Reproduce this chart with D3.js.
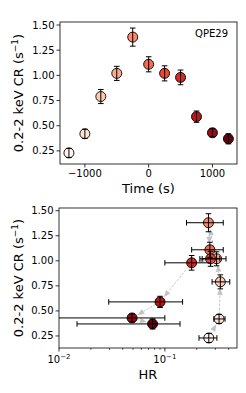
<!DOCTYPE html>
<html><head><meta charset="utf-8">
<script src="https://cdn.jsdelivr.net/npm/d3@7"></script>
<style>
body{margin:0;background:#fff;}
svg text{font-family:"DejaVu Sans",sans-serif;fill:#000;}
</style></head>
<body><svg id="c" width="246" height="393"></svg>
<script>
const timeS = [-1250,-1000,-750,-500,-250,0,250,500,750,1000,1250];
const countRate = [0.23,0.42,0.79,1.02,1.38,1.11,1.02,0.98,0.59,0.43,0.37];
const countRateErr = [0.045,0.045,0.07,0.07,0.09,0.075,0.075,0.073,0.056,0.04,0.05];
const hardness = [0.26,0.325,0.334,0.308,0.258,0.266,0.27,0.179,0.09,0.049,0.0765];
const hardnessLo = [0.21,0.29,0.279,0.214,0.16,0.179,0.225,0.10,0.0295,0.005,0.0148];
const hardnessHi = [0.31,0.37,0.41,0.378,0.356,0.356,0.33,0.27,0.147,0.10,0.139];
const timeTicks = [-1000,0,1000];
const crTicks = [0.25,0.5,0.75,1.0,1.25,1.5];
const hrMajor = [0.01,0.1];
const hrMinor = [0.02,0.03,0.04,0.05,0.06,0.07,0.08,0.09,0.2,0.3,0.4];
const label = "QPE29";

const svg = d3.select("#c");
const n = countRate.length;
const color = i => d3.interpolateReds(i/(n-1));

function yAxisDraw(g, y, x0) {
  crTicks.forEach(t => {
    g.append("line").attr("x1", x0-3.5).attr("x2", x0).attr("y1", y(t)).attr("y2", y(t)).attr("stroke","#000").attr("stroke-width",0.8);
    g.append("text").attr("x", x0-5.5).attr("y", y(t)).attr("dy","0.35em").attr("text-anchor","end").attr("font-size",10).text(t.toFixed(2));
  });
}
function yLabel(g, cy) {
  const t = g.append("text").attr("transform",`translate(23,${cy}) rotate(-90)`).attr("text-anchor","middle").attr("font-size",13);
  t.append("tspan").text("0.2-2 keV CR (s");
  t.append("tspan").attr("font-size",9).attr("dy",-5).text("\u22121");
  t.append("tspan").attr("dy",5).text(")");
}
function errBars(g, xs, ys, ylo, yhi, xlo, xhi) {
  const cap = 2.8;
  for (let i=0;i<n;i++){
    g.append("line").attr("x1",xs[i]).attr("x2",xs[i]).attr("y1",ylo[i]).attr("y2",yhi[i]).attr("stroke","#000").attr("stroke-width",1);
    g.append("line").attr("x1",xs[i]-cap).attr("x2",xs[i]+cap).attr("y1",ylo[i]).attr("y2",ylo[i]).attr("stroke","#000").attr("stroke-width",1);
    g.append("line").attr("x1",xs[i]-cap).attr("x2",xs[i]+cap).attr("y1",yhi[i]).attr("y2",yhi[i]).attr("stroke","#000").attr("stroke-width",1);
    if (xlo) {
      g.append("line").attr("x1",xlo[i]).attr("x2",xhi[i]).attr("y1",ys[i]).attr("y2",ys[i]).attr("stroke","#000").attr("stroke-width",1);
      g.append("line").attr("x1",xlo[i]).attr("x2",xlo[i]).attr("y1",ys[i]-cap).attr("y2",ys[i]+cap).attr("stroke","#000").attr("stroke-width",1);
      g.append("line").attr("x1",xhi[i]).attr("x2",xhi[i]).attr("y1",ys[i]-cap).attr("y2",ys[i]+cap).attr("stroke","#000").attr("stroke-width",1);
    }
  }
}

// ---------- Top panel ----------
const t = {l:60, r:237, t:22, b:164};
const x1 = d3.scaleLinear().domain([-1390,1385]).range([t.l,t.r]);
const y1 = d3.scaleLinear().domain([0.12,1.53]).range([t.b,t.t]);
const g1 = svg.append("g");
g1.append("defs").append("clipPath").attr("id","clip1").append("rect").attr("x",t.l).attr("y",t.t).attr("width",t.r-t.l).attr("height",t.b-t.t);
const p1 = g1.append("g").attr("clip-path","url(#clip1)");
timeS.forEach((d,i)=>{
  p1.append("circle").attr("cx",x1(d)).attr("cy",y1(countRate[i])).attr("r",5).attr("fill",color(i)).attr("stroke","#000").attr("stroke-width",0.9);
});
errBars(p1, timeS.map(x1), countRate.map(y1), countRate.map((v,i)=>y1(v-countRateErr[i])), countRate.map((v,i)=>y1(v+countRateErr[i])));
g1.append("rect").attr("x",t.l).attr("y",t.t).attr("width",t.r-t.l).attr("height",t.b-t.t).attr("fill","none").attr("stroke","#000").attr("stroke-width",0.8);
yAxisDraw(g1, y1, t.l);
timeTicks.forEach(v=>{
  g1.append("line").attr("x1",x1(v)).attr("x2",x1(v)).attr("y1",t.b).attr("y2",t.b+3.5).attr("stroke","#000").attr("stroke-width",0.8);
  g1.append("text").attr("x",x1(v)).attr("y",t.b+13).attr("text-anchor","middle").attr("font-size",10).text(v<0?"\u2212"+Math.abs(v):String(v));
});
g1.append("text").attr("x",(t.l+t.r)/2).attr("y",193).attr("text-anchor","middle").attr("font-size",13).text("Time (s)");
g1.append("text").attr("x",228).attr("y",37).attr("text-anchor","end").attr("font-size",10).text(label);
yLabel(g1,(t.t+t.b)/2);

// ---------- Bottom panel ----------
const b = {l:59, r:237, t:208, b:348};
const x2 = d3.scaleLog().domain([0.01,0.48]).range([b.l,b.r]);
const y2 = d3.scaleLinear().domain([0.13,1.527]).range([b.b,b.t]);
const g2 = svg.append("g");
g2.append("defs").append("clipPath").attr("id","clip2").append("rect").attr("x",b.l).attr("y",b.t).attr("width",b.r-b.l).attr("height",b.b-b.t);
const p2 = g2.append("g").attr("clip-path","url(#clip2)");
// arrows
for (let i=0;i<n-1;i++){
  const xa=x2(hardness[i]), ya=y2(countRate[i]), xb=x2(hardness[i+1]), yb=y2(countRate[i+1]);
  const dx=xb-xa, dy=yb-ya, L=Math.hypot(dx,dy);
  if (L<4) continue;
  const ux=dx/L, uy=dy/L;
  const sA=Math.min(5,L*0.2), sB=Math.min(6,L*0.3);
  const sx=xa+ux*sA, sy=ya+uy*sA, ex=xb-ux*sB, ey=yb-uy*sB;
  const hl=Math.min(7,L*0.5), hw=2.8;
  const bx=ex-ux*hl, by=ey-uy*hl;
  p2.append("line").attr("x1",sx).attr("y1",sy).attr("x2",bx).attr("y2",by).attr("stroke","#c4c4c4").attr("stroke-width",1).attr("stroke-dasharray","2.5,1.5");
  p2.append("path").attr("d",`M${ex},${ey}L${bx-uy*hw},${by+ux*hw}L${bx+uy*hw},${by-ux*hw}Z`).attr("fill","#bdbdbd").attr("opacity",0.9);
}
hardness.forEach((d,i)=>{
  p2.append("circle").attr("cx",x2(d)).attr("cy",y2(countRate[i])).attr("r",5).attr("fill",color(i)).attr("stroke","#000").attr("stroke-width",0.9);
});
errBars(p2, hardness.map(x2), countRate.map(y2), countRate.map((v,i)=>y2(v-countRateErr[i])), countRate.map((v,i)=>y2(v+countRateErr[i])), hardnessLo.map(x2), hardnessHi.map(x2));
g2.append("rect").attr("x",b.l).attr("y",b.t).attr("width",b.r-b.l).attr("height",b.b-b.t).attr("fill","none").attr("stroke","#000").attr("stroke-width",0.8);
yAxisDraw(g2, y2, b.l);
hrMinor.forEach(v=>{
  g2.append("line").attr("x1",x2(v)).attr("x2",x2(v)).attr("y1",b.b).attr("y2",b.b+2).attr("stroke","#000").attr("stroke-width",0.6);
});
hrMajor.forEach(v=>{
  g2.append("line").attr("x1",x2(v)).attr("x2",x2(v)).attr("y1",b.b).attr("y2",b.b+3.5).attr("stroke","#000").attr("stroke-width",0.8);
  const tx=g2.append("text").attr("x",x2(v)).attr("y",b.b+15).attr("text-anchor","middle").attr("font-size",10);
  tx.append("tspan").text("10");
  tx.append("tspan").attr("font-size",7).attr("dy",-4).text("\u2212"+Math.round(-Math.log10(v)));
});
g2.append("text").attr("x",(b.l+b.r)/2).attr("y",379).attr("text-anchor","middle").attr("font-size",13).text("HR");
yLabel(g2,(b.t+b.b)/2);
</script></body></html>
